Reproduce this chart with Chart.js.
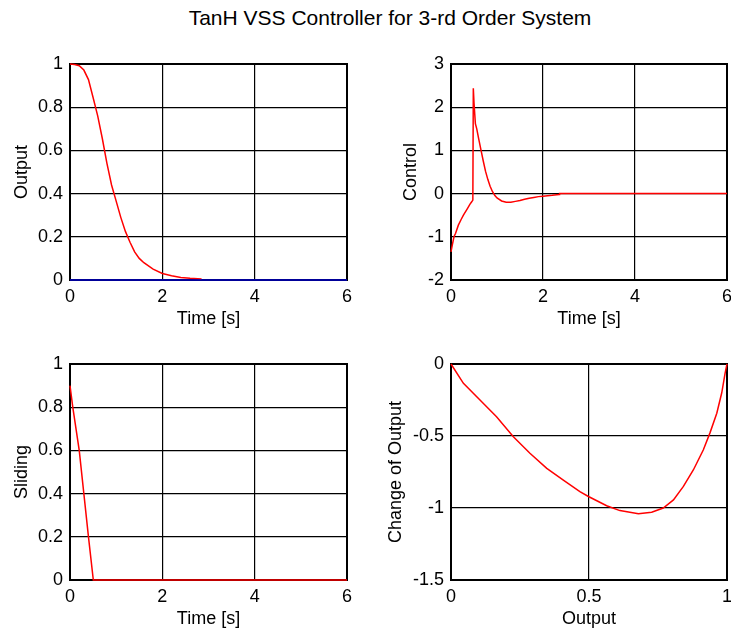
<!DOCTYPE html>
<html>
<head>
<meta charset="utf-8">
<script src="https://cdn.jsdelivr.net/npm/chart.js@4/dist/chart.umd.min.js"></script>
<style>
  body { margin: 0; background: #fff; }
  #fig { position: relative; width: 731px; height: 634px; overflow: hidden; }
  #fig canvas { position: absolute; left: 0; top: 0; }
  #figTitle {
    position: absolute; left: 390px; top: 6px; transform: translateX(-50%);
    font: 21px "Liberation Sans", Arial, sans-serif; line-height: 24px;
    white-space: nowrap; color: #000;
  }
</style>
</head>
<body>
<div id="fig">
  <div id="figTitle">TanH VSS Controller for 3-rd Order System</div>
  <canvas id="c1" width="731" height="634"></canvas>
  <canvas id="c2" width="731" height="634"></canvas>
  <canvas id="c3" width="731" height="634"></canvas>
  <canvas id="c4" width="731" height="634"></canvas>
</div>
<script>
// plant output y(t) and reference r(t)
const outTime  = [0, 0.1, 0.2, 0.3, 0.4, 0.5, 0.6, 0.7, 0.8, 0.9, 1.0, 1.1, 1.2, 1.3, 1.4, 1.5, 1.6, 1.8, 2.0, 2.2, 2.4, 2.6, 2.85];
const outValue = [1.0, 0.998, 0.992, 0.972, 0.928, 0.845, 0.76, 0.655, 0.54, 0.44, 0.365, 0.29, 0.225, 0.175, 0.13, 0.1, 0.08, 0.05, 0.03, 0.02, 0.012, 0.008, 0.005];
const refTime  = [0, 6];
const refValue = [0, 0];

// control signal u(t)
const ctrlTime  = [0, 0.03, 0.065, 0.1, 0.16, 0.22, 0.27, 0.32, 0.36, 0.41, 0.45, 0.475, 0.485, 0.5, 0.53, 0.56, 0.6, 0.65, 0.7, 0.75, 0.8, 0.85, 0.9, 0.95, 1.0, 1.1, 1.2, 1.3, 1.4, 1.5, 1.6, 1.7, 1.8, 1.9, 2.0, 2.2, 2.35, 2.36, 6];
const ctrlValue = [-1.35, -1.18, -1.0, -0.92, -0.73, -0.6, -0.5, -0.41, -0.34, -0.25, -0.19, -0.15, 2.44, 2.1, 1.62, 1.5, 1.28, 1.02, 0.76, 0.52, 0.33, 0.17, 0.05, -0.04, -0.1, -0.17, -0.2, -0.2, -0.18, -0.16, -0.13, -0.11, -0.09, -0.07, -0.06, -0.04, -0.02, 0, 0];

// sliding surface s(t)
const slideTime  = [0, 0.06, 0.2, 0.3, 0.4, 0.505, 6];
const slideValue = [0.9, 0.8, 0.6, 0.4, 0.2, 0, 0];

// phase plane: y vs dy/dt
const phaseOut  = [0, 0.045, 0.105, 0.165, 0.226, 0.286, 0.347, 0.407, 0.467, 0.498, 0.564, 0.612, 0.679, 0.727, 0.769, 0.806, 0.842, 0.878, 0.914, 0.938, 0.963, 0.981, 0.993, 1.0];
const phaseRate = [0, -0.134, -0.25, -0.366, -0.505, -0.62, -0.725, -0.806, -0.887, -0.92, -0.984, -1.018, -1.04, -1.03, -1.0, -0.944, -0.85, -0.736, -0.597, -0.48, -0.342, -0.2, -0.065, 0];

// tick marks
const timeTicks   = [0, 2, 4, 6];
const unitTicks   = [0, 0.2, 0.4, 0.6, 0.8, 1];
const ctrlTicks   = [-2, -1, 0, 1, 2, 3];
const phaseXTicks = [0, 0.5, 1];
const phaseYTicks = [-1.5, -1, -0.5, 0];

Chart.defaults.font.family = '"Liberation Sans", Arial, sans-serif';
Chart.defaults.font.size = 18;
Chart.defaults.color = '#000';

const W = 731, H = 634, X_AXIS_H = 50;

function pts(xs, ys) {
  return xs.map((x, i) => ({x: x, y: ys[i]}));
}

// MATLAB style tick text: 1 not 1.0, -0.5 not -0.50
const tickText = v => String(+Number(v).toFixed(3));

// box around the axes, like MATLAB's "box on"
const framePlugin = {
  id: 'frame',
  beforeDatasetsDraw(chart) {
    const a = chart.chartArea;
    const ctx = chart.ctx;
    ctx.save();
    ctx.strokeStyle = '#000';
    ctx.lineWidth = 2;
    ctx.strokeRect(a.left, a.top, a.right - a.left, a.bottom - a.top);
    ctx.restore();
  }
};

function line(xs, ys, color) {
  return {
    data: pts(xs, ys),
    showLine: true,
    borderColor: color,
    borderWidth: 1.5,
    pointRadius: 0,
    tension: 0,
    clip: false
  };
}

// box: plot area edges, ylabelX: centre of the rotated y label
function subplot(id, box, ylabelX, datasets, xr, yr, xTicks, yTicks, xTitle, yTitle) {
  const padLeft = ylabelX - 10.8;
  const yWidth = box.left - padLeft;
  new Chart(document.getElementById(id), {
    type: 'scatter',
    data: { datasets: datasets },
    options: {
      responsive: false,
      animation: false,
      devicePixelRatio: 1,
      events: [],
      layout: {
        padding: {
          left: padLeft,
          top: box.top,
          right: W - box.right,
          bottom: H - (box.bottom + X_AXIS_H)
        }
      },
      plugins: { legend: { display: false }, tooltip: { enabled: false } },
      scales: {
        x: {
          type: 'linear',
          min: xr[0], max: xr[1],
          afterBuildTicks: s => { s.ticks = xTicks.map(v => ({value: v})); },
          afterFit: s => { s.height = X_AXIS_H; s.paddingLeft = 0; s.paddingRight = 0; },
          grid: { color: '#000', lineWidth: 1.2, drawTicks: false },
          border: { display: false },
          ticks: { padding: 6, autoSkip: false, maxRotation: 0, callback: tickText },
          title: { display: true, text: xTitle, padding: 0 }
        },
        y: {
          type: 'linear',
          min: yr[0], max: yr[1],
          afterBuildTicks: s => { s.ticks = yTicks.map(v => ({value: v})); },
          afterFit: s => { s.width = yWidth; },
          grid: { color: '#000', lineWidth: 1.2, drawTicks: false },
          border: { display: false },
          ticks: { padding: 7, autoSkip: false, callback: tickText },
          title: { display: true, text: yTitle, padding: 0 }
        }
      }
    },
    plugins: [framePlugin]
  });
}

subplot('c1', {left: 70, top: 64, right: 347, bottom: 280}, 22.5,
  [line(refTime, refValue, '#0000cc'), line(outTime, outValue, '#ff0000')],
  [0, 6], [0, 1], timeTicks, unitTicks, 'Time [s]', 'Output');

subplot('c2', {left: 451, top: 64, right: 727, bottom: 280}, 411.5,
  [line(ctrlTime, ctrlValue, '#ff0000')],
  [0, 6], [-2, 3], timeTicks, ctrlTicks, 'Time [s]', 'Control');

subplot('c3', {left: 70, top: 364, right: 347, bottom: 580}, 21.7,
  [line(slideTime, slideValue, '#ff0000')],
  [0, 6], [0, 1], timeTicks, unitTicks, 'Time [s]', 'Sliding');

subplot('c4', {left: 451, top: 364, right: 727, bottom: 580}, 395.8,
  [line(phaseOut, phaseRate, '#ff0000')],
  [0, 1], [-1.5, 0], phaseXTicks, phaseYTicks, 'Output', 'Change of Output');
</script>
</body>
</html>
